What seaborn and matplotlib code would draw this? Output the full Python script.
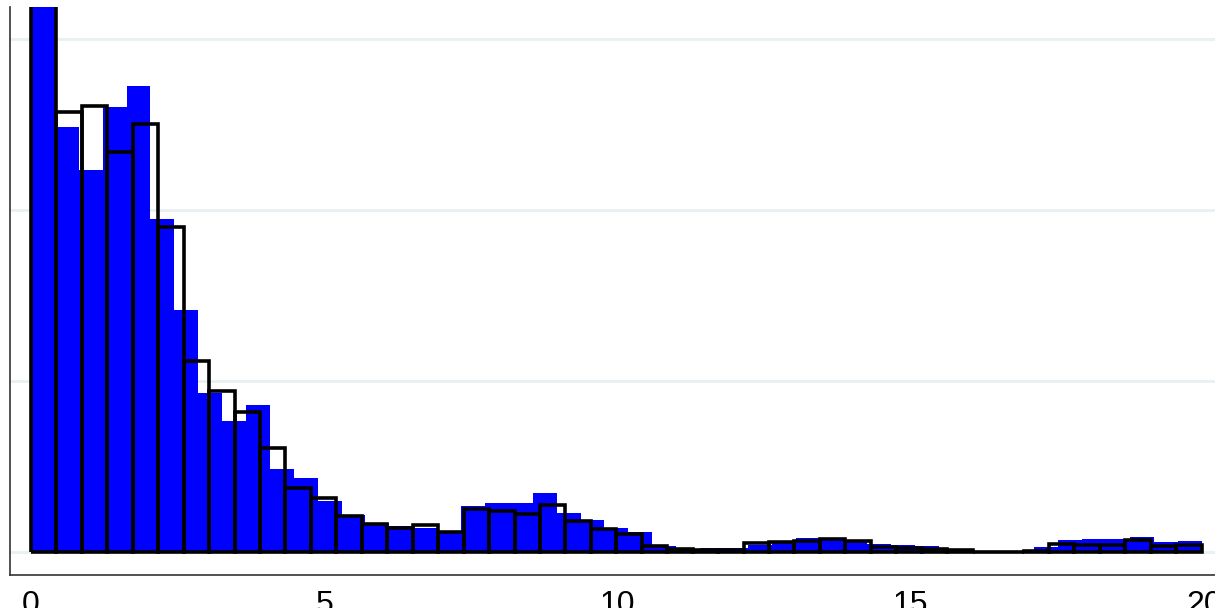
import numpy as np
import pandas as pd
import matplotlib
matplotlib.use("Agg")
import matplotlib.pyplot as plt
import seaborn as sns

# bin range of both histograms
x_min, x_max = 0.0, 19.96

# filled histogram (49 bins), density per bin
blue_density = [
    0.370, 0.2487, 0.2234, 0.2604, 0.2725, 0.1947, 0.1415, 0.0932, 0.0768, 0.0860,
    0.0485, 0.0433, 0.0298, 0.0216, 0.0171, 0.0152, 0.0140, 0.0111, 0.0269, 0.0288,
    0.0288, 0.0347, 0.0230, 0.0187, 0.0140, 0.0119, 0.0035, 0.0012, 0.0023, 0.0023,
    0.0043, 0.0058, 0.0080, 0.0080, 0.0070, 0.0047, 0.0039, 0.0035, 0.0012, 0.0,
    0.0, 0.0003, 0.0027, 0.0070, 0.0076, 0.0076, 0.0088, 0.0060, 0.0064,
]

# outlined histogram (46 bins), density per bin
outline_density = [
    0.400, 0.2571, 0.2608, 0.2337, 0.2503, 0.1899, 0.1117, 0.0942, 0.0817, 0.0610,
    0.0372, 0.0314, 0.0211, 0.0164, 0.0142, 0.0156, 0.0115, 0.0251, 0.0242, 0.0222,
    0.0275, 0.0183, 0.0136, 0.0104, 0.0035, 0.0016, 0.0012, 0.0012, 0.0051, 0.0058,
    0.0064, 0.0076, 0.0064, 0.0027, 0.0025, 0.0018, 0.0012, 0.0, 0.0, 0.0003,
    0.0047, 0.0043, 0.0043, 0.0070, 0.0035, 0.0039,
]

x_ticks = [0, 5, 10, 15, 20]
x_tick_labels = ["0", "5", "10", "15", "20"]
y_grid = [0.0, 0.1, 0.2, 0.3]


def hist_frame(values):
    edges = np.linspace(x_min, x_max, len(values) + 1)
    centers = (edges[:-1] + edges[1:]) / 2
    return pd.DataFrame({"x": centers, "w": values}), edges.tolist()


sns.set_style("white")
plt.rcParams["font.family"] = ["Liberation Sans", "DejaVu Sans"]

W, H = 1215, 608
fig = plt.figure(figsize=(W / 100, H / 100), dpi=100)
# axes placed in pixel terms: left spine at x=9.5, bottom spine at y=575, top at y=7
ax = fig.add_axes([9.5 / W, (H - 575) / H, (W - 9.5) / W, (575 - 7) / H])

blue_df, blue_edges = hist_frame(blue_density)
out_df, out_edges = hist_frame(outline_density)

sns.histplot(data=blue_df, x="x", weights="w", bins=blue_edges, stat="count",
             color="#0000ff", alpha=1, linewidth=0, ax=ax, zorder=2)
sns.histplot(data=out_df, x="x", weights="w", bins=out_edges, stat="count",
             fill=False, color="black", linewidth=2.6, ax=ax, zorder=3)

ax.set_xlim(-0.3666, 20.187)
ax.set_ylim(-0.01345, 0.3187)
ax.set_xlabel("")
ax.set_ylabel("")

ax.set_yticks(y_grid)
ax.set_yticklabels([])
ax.set_xticks(x_ticks)
ax.set_xticklabels(x_tick_labels, fontsize=23)

ax.grid(axis="y", color="#e8f0f2", linewidth=2)
ax.set_axisbelow(True)

for side in ["top", "right"]:
    ax.spines[side].set_visible(False)
for side in ["left", "bottom"]:
    ax.spines[side].set_color("#333333")
    ax.spines[side].set_linewidth(1.2)

ax.tick_params(axis="x", direction="out", length=9.4, width=1.6, color="black",
               labelcolor="black", pad=1.5)
ax.tick_params(axis="y", direction="out", length=2.5, width=1.6, color="black")

fig.savefig("out.png", dpi=100)
